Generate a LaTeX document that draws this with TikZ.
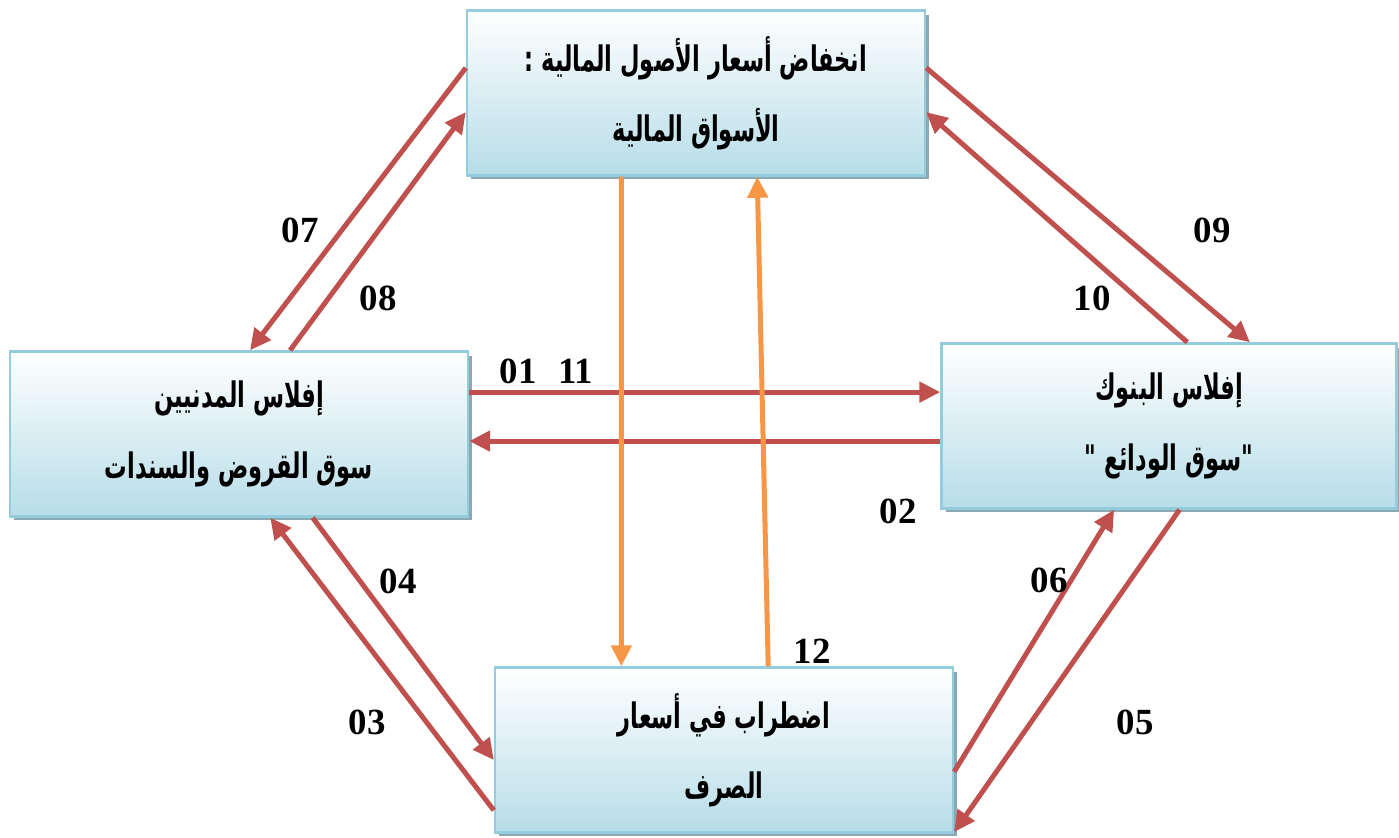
\documentclass[tikz,border=0pt]{standalone}
\usepackage{fontspec}
\setmainfont{Liberation Serif}
\newfontfamily\arabicfont[Script=Arabic,FakeStretch=0.64]{DejaVu Sans}
\TeXXeTstate=1
\usetikzlibrary{arrows.meta,calc,shadows}
\definecolor{linkred}{HTML}{C0504D}
\definecolor{linkorange}{HTML}{F79646}
\definecolor{boxblue}{HTML}{B7DDE8}
\definecolor{boxedge}{HTML}{93CDDD}
\definecolor{boxshadow}{HTML}{8CA8B0}
\newcommand{\artxt}[1]{{\arabicfont\bfseries\beginR #1\endR}}

\begin{document}
\begin{tikzpicture}[x=0.02cm,y=-0.02cm,
    box/.style={draw=boxedge, line width=0.05cm, top color=white, bottom color=boxblue,
      minimum width=9.16cm, minimum height=3.3cm, align=center,
      font=\fontsize{20}{40}\selectfont,
      drop shadow={shadow xshift=0.08cm, shadow yshift=-0.08cm, fill=boxshadow, opacity=1}},
    link/.style={draw=linkred, line width=0.1cm, -{Triangle[length=0.42cm,width=0.4cm]}},
    pull/.style={link, draw=linkorange},
    num/.style={font=\bfseries\fontsize{21}{24}\selectfont}]
    \useasboundingbox (0,0) rectangle (1399,838);

    \node[box] (top) at (696,93) {\artxt{انخفاض أسعار الأصول المالية :}\\ \artxt{الأسواق المالية}};
    \node[box] (left) at (239,434) {\artxt{إفلاس المدنيين}\\ \artxt{سوق القروض والسندات}};
    \node[box, minimum width=9.1cm] (right) at (1169,426) {\artxt{إفلاس البنوك}\\ \artxt{"سوق الودائع "}};
    \node[box] (bottom) at (724,750) {\artxt{اضطراب في أسعار}\\ \artxt{الصرف}};

    % top <-> left
    \draw[link] ($(top.north west)!.35!(top.south west)$) -- ($(left.north west)!.524!(left.north east)$);
    \draw[link] ($(left.north west)!.611!(left.north east)$) -- ($(top.north west)!.614!(top.south west)$);
    % top <-> right
    \draw[link] ($(top.north east)!.35!(top.south east)$) -- ($(right.north west)!.677!(right.north east)$);
    \draw[link] ($(right.north west)!.54!(right.north east)$) -- ($(top.north east)!.614!(top.south east)$);
    % left <-> right
    \coordinate (r1) at ($(left.north east)!.25!(left.south east)$);
    \coordinate (r2) at ($(right.north west)!.59!(right.south west)$);
    \draw[link] (r1) -- (r1 -| right.west);
    \draw[link] (r2) -- (r2 -| left.east);
    % left <-> bottom
    \draw[link] ($(left.south west)!.66!(left.south east)$) -- ($(bottom.north west)!.56!(bottom.south west)$);
    \draw[link] ($(bottom.north west)!.86!(bottom.south west)$) -- ($(left.south west)!.568!(left.south east)$);
    % bottom <-> right
    \draw[link] ($(bottom.north east)!.63!(bottom.south east)$) -- ($(right.south west)!.38!(right.south east)$);
    \draw[link] ($(right.south west)!.523!(right.south east)$) -- ($(bottom.north east)!.99!(bottom.south east)$);
    % top <-> bottom
    \draw[pull] ($(top.south west)!.338!(top.south east)$) -- ($(bottom.north west)!.277!(bottom.north east)$);
    \draw[pull] ($(bottom.north west)!.596!(bottom.north east)$) -- ($(top.south west)!.633!(top.south east)$);

    \node[num] (n07) at (300,230) {07};
    \node[num] (n08) at (378,298) {08};
    \node[num] (n09) at (1212,230) {09};
    \node[num] (n10) at (1092,298) {10};
    \node[num] (n01) at (518,371) {01};
    \node[num] (n11) at (576,371) {11};
    \node[num] (n02) at (898,511) {02};
    \node[num] (n04) at (398,581) {04};
    \node[num] (n03) at (367,722) {03};
    \node[num] (n06) at (1049,580) {06};
    \node[num] (n05) at (1135,722) {05};
    \node[num] (n12) at (812,651) {12};
  \end{tikzpicture}
\end{document}
